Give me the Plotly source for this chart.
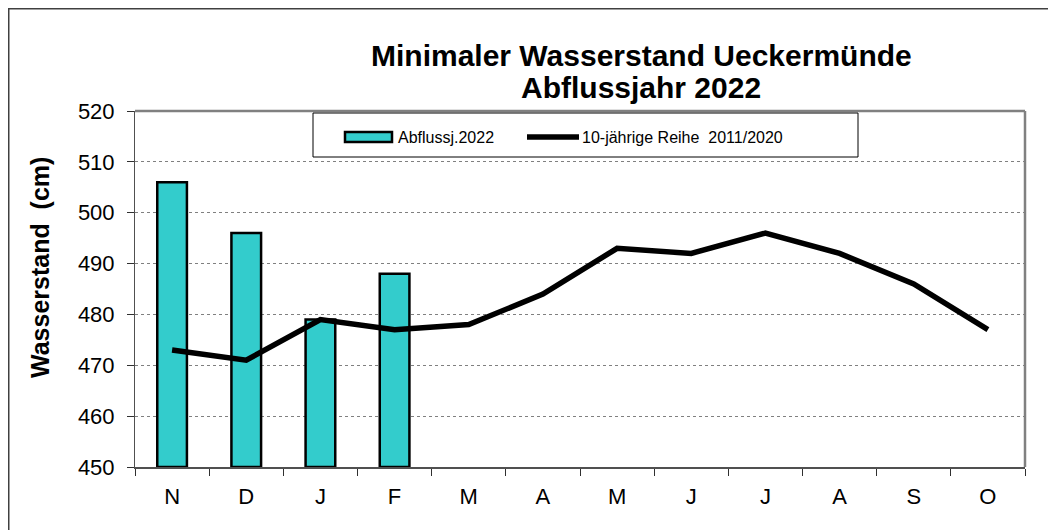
import plotly.graph_objects as go

months = ["N", "D", "J", "F", "M", "A", "M", "J", "J", "A", "S", "O"]
bar_values = [506, 496, 479, 488]
line_values = [473, 471, 479, 477, 478, 484, 493, 492, 496, 492, 486, 477]
y_ticks = [450, 460, 470, 480, 490, 500, 510, 520]
bar_name = "Abflussj.2022"
line_name = "10-jährige Reihe  2011/2020"

OFF = 8  # page body margin
W, H = 1056 - OFF, 530 - OFF
L, R, T, B = 135 - OFF, 1025 - OFF, 111 - OFF, 467 - OFF
pw, ph = R - L, B - T

def px_x(p):  # screen pixel -> paper
    return (p - OFF - L) / pw

def px_y(p):
    return (B - (p - OFF)) / ph

x_idx = list(range(len(months)))

fig = go.Figure()
fig.add_trace(go.Bar(
    x=x_idx[:len(bar_values)], y=[v - 450 for v in bar_values], base=450,
    name=bar_name, width=0.4,
    marker=dict(color="#33CCCC", line=dict(color="black", width=2.5)),
))
fig.add_trace(go.Scatter(
    x=x_idx, y=line_values, mode="lines", name=line_name,
    line=dict(color="black", width=5.5),
))

fig.update_layout(
    width=W, height=H,
    margin=dict(l=L, r=W - R, t=T, b=H - B),
    paper_bgcolor="white", plot_bgcolor="white",
    font=dict(family="Liberation Sans, Arial", color="black"),
    showlegend=False,
    xaxis=dict(
        range=[-0.5, 11.5], tickvals=x_idx, ticktext=months,
        ticks="", tickfont=dict(size=22), showgrid=False, zeroline=False,
        showline=True, linecolor="#505050", linewidth=2, ticklabelstandoff=9,
        minor=dict(ticks="outside", tick0=-0.5, dtick=1, ticklen=7, tickcolor="#303030", tickwidth=1),
    ),
    yaxis=dict(
        range=[450, 520], tickvals=y_ticks, ticks="outside", ticklen=7,
        tickcolor="#303030", tickfont=dict(size=22), ticklabelstandoff=8,
        showgrid=True, gridcolor="#808080", griddash="dot", gridwidth=1,
        zeroline=False, showline=True, linecolor="#505050", linewidth=1,
    ),
    annotations=[
        dict(text="<b>Minimaler Wasserstand Ueckermünde</b>",
             xref="paper", yref="paper", x=px_x(641), y=px_y(55),
             xanchor="center", yanchor="middle", showarrow=False,
             font=dict(size=30)),
        dict(text="<b>Abflussjahr 2022</b>",
             xref="paper", yref="paper", x=px_x(641), y=px_y(88),
             xanchor="center", yanchor="middle", showarrow=False,
             font=dict(size=30)),
        dict(text="<b>Wasserstand  (cm)</b>", textangle=-90,
             xref="paper", yref="paper", x=px_x(40), y=px_y(268),
             xanchor="center", yanchor="middle", showarrow=False,
             font=dict(size=25)),
        dict(text=bar_name, xref="paper", yref="paper", x=px_x(396), y=px_y(137),
             xanchor="left", yanchor="middle", showarrow=False, font=dict(size=16)),
        dict(text=line_name, xref="paper", yref="paper", x=px_x(580), y=px_y(137),
             xanchor="left", yanchor="middle", showarrow=False, font=dict(size=16)),
    ],
    shapes=[
        dict(type="line", xref="paper", yref="paper", x0=0, x1=1, y0=1, y1=1,
             line=dict(color="#808080", width=2.5)),
        dict(type="line", xref="paper", yref="paper", x0=1, x1=1, y0=0, y1=1,
             line=dict(color="#808080", width=2.5)),
        # outer frame
        dict(type="rect", xref="paper", yref="paper",
             x0=px_x(OFF + 0.75), x1=px_x(1070), y0=px_y(545), y1=px_y(OFF + 0.75),
             line=dict(color="#404040", width=1.5)),
        # legend box
        dict(type="rect", xref="paper", yref="paper",
             x0=px_x(313), x1=px_x(858), y0=px_y(157), y1=px_y(113),
             line=dict(color="black", width=1), fillcolor="white", layer="above"),
        dict(type="rect", xref="paper", yref="paper",
             x0=px_x(345), x1=px_x(392), y0=px_y(142), y1=px_y(132),
             line=dict(color="black", width=2.5), fillcolor="#33CCCC", layer="above"),
        dict(type="line", xref="paper", yref="paper",
             x0=px_x(527), x1=px_x(579), y0=px_y(137), y1=px_y(137),
             line=dict(color="black", width=5.5), layer="above"),
    ],
)

fig.write_html("out.html")
